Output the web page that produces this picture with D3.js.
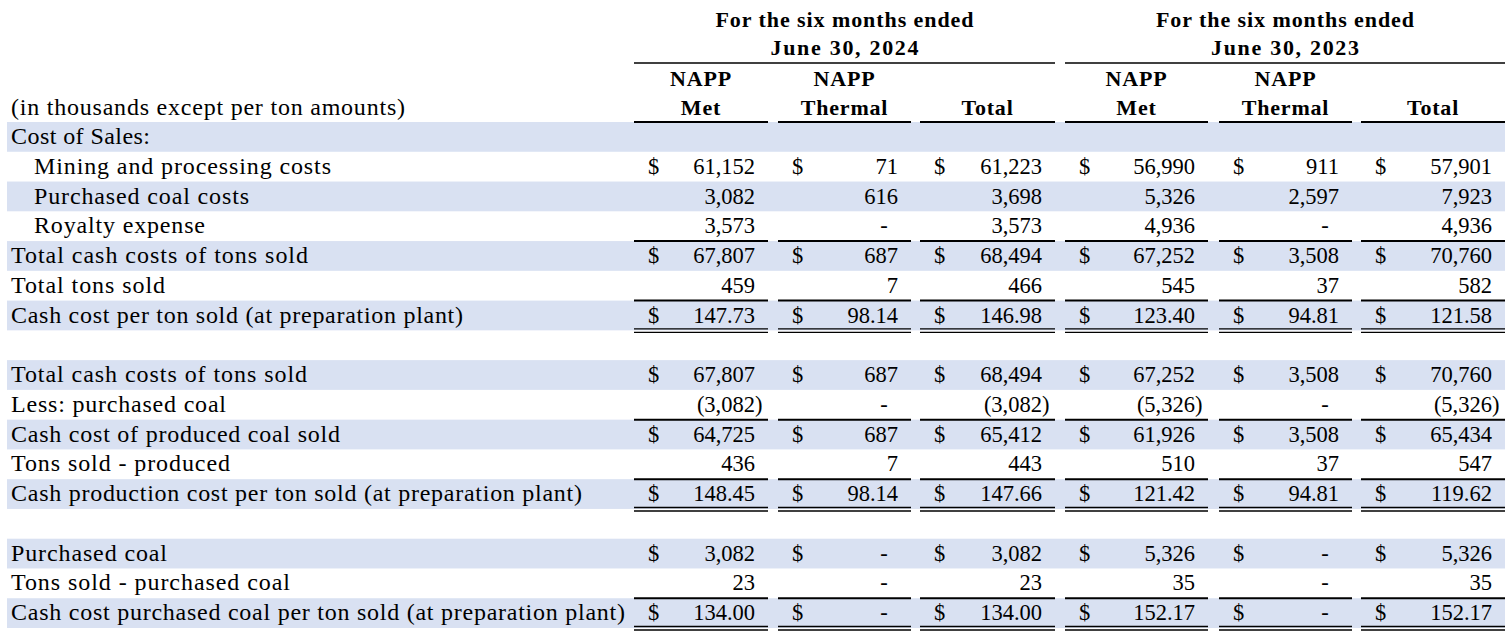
<!DOCTYPE html>
<html><head><meta charset="utf-8">
<script src="https://cdn.jsdelivr.net/npm/d3@7"></script>
<style>html,body{margin:0;padding:0;background:#fff;} svg{display:block;}</style>
</head><body><svg id="c" width="1512" height="638"></svg>
<script>
// ---------- DATA ----------
const rowLabels = [
  "Cost of Sales:",
  "Mining and processing costs",
  "Purchased coal costs",
  "Royalty expense",
  "Total cash costs of tons sold",
  "Total tons sold",
  "Cash cost per ton sold (at preparation plant)",
  "",
  "Total cash costs of tons sold",
  "Less: purchased coal",
  "Cash cost of produced coal sold",
  "Tons sold - produced",
  "Cash production cost per ton sold (at preparation plant)",
  "",
  "Purchased coal",
  "Tons sold - purchased coal",
  "Cash cost purchased coal per ton sold (at preparation plant)"
];
const indentRows = [1, 2, 3];
const shadedRows = [0, 2, 4, 6, 8, 10, 12, 14, 16];
const dollarRows = [1, 4, 6, 8, 10, 12, 14, 16];
const decimalRows = [6, 12, 16];
const ruleAboveRows = [4, 6, 10, 12, 16];
const doubleRuleBelowRows = [6, 12, 16];

const unitsLabel = "(in thousands except per ton amounts)";
const periodTitles = ["For the six months ended", "For the six months ended"];
const periodDates = ["June 30, 2024", "June 30, 2023"];
const columnTop = ["NAPP", "NAPP", "", "NAPP", "NAPP", ""];
const columnBottom = ["Met", "Thermal", "Total", "Met", "Thermal", "Total"];

const met2024     = [null, 61152, 3082, 3573, 67807, 459, 147.73, null, 67807, -3082, 64725, 436, 148.45, null, 3082, 23, 134.00];
const thermal2024 = [null, 71, 616, 0, 687, 7, 98.14, null, 687, 0, 687, 7, 98.14, null, 0, 0, 0];
const total2024   = [null, 61223, 3698, 3573, 68494, 466, 146.98, null, 68494, -3082, 65412, 443, 147.66, null, 3082, 23, 134.00];
const met2023     = [null, 56990, 5326, 4936, 67252, 545, 123.40, null, 67252, -5326, 61926, 510, 121.42, null, 5326, 35, 152.17];
const thermal2023 = [null, 911, 2597, 0, 3508, 37, 94.81, null, 3508, 0, 3508, 37, 94.81, null, 0, 0, 0];
const total2023   = [null, 57901, 7923, 4936, 70760, 582, 121.58, null, 70760, -5326, 65434, 547, 119.62, null, 5326, 35, 152.17];
const series = [met2024, thermal2024, total2024, met2023, thermal2023, total2023];

// ---------- LAYOUT ----------
const W = 1512, H = 638;
const FONT = "'Liberation Serif', 'Times New Roman', Times, serif";
const SHADE = "#d9e1f2";
const labelEnds = [150, 331, 249, 205, 308, 165, 463, null, 307, 226, 340, 230, 582, null, 167, 290, 625];

const svg = d3.select("#c").attr("width", W).attr("height", H);
svg.append("rect").attr("width", W).attr("height", H).attr("fill", "#fff");

const y = d3.scaleBand().domain(d3.range(rowLabels.length)).range([122, 628]);
const colIdx = d3.range(series.length);
const colLeft = d3.scaleOrdinal().domain(colIdx).range([634, 778, 920, 1065, 1219, 1361]);
const colRight = d3.scaleOrdinal().domain(colIdx).range([768, 911, 1055, 1208, 1352, 1505]);
const groupCols = [[0, 2], [3, 5]];

// shaded bands
svg.append("g").selectAll("rect").data(shadedRows).join("rect")
  .attr("x", 7).attr("width", 1505 - 7)
  .attr("y", d => y(d)).attr("height", y.bandwidth())
  .attr("fill", SHADE);

const txt = svg.append("g").attr("font-family", FONT).attr("fill", "#000");

// header
groupCols.forEach(([a, b], g) => {
  const cx = (colLeft(a) + colRight(b)) / 2;
  txt.append("text").attr("x", cx - 129).attr("y", 27)
    .attr("font-size", 22).attr("font-weight", "bold")
    .attr("textLength", 258).attr("lengthAdjust", "spacing")
    .text(periodTitles[g]);
  txt.append("text").attr("x", cx - 74).attr("y", 55)
    .attr("font-size", 22).attr("font-weight", "bold")
    .attr("textLength", 148).attr("lengthAdjust", "spacing")
    .text(periodDates[g]);
  svg.append("line").attr("x1", colLeft(a)).attr("x2", colRight(b))
    .attr("y1", 63).attr("y2", 63).attr("stroke", "#000").attr("stroke-width", 1.6);
});
colIdx.forEach(c => {
  const cx = (colLeft(c) + colRight(c)) / 2;
  txt.append("text").attr("x", cx).attr("y", 86).attr("text-anchor", "middle")
    .attr("font-size", 22).attr("font-weight", "bold").attr("letter-spacing", 0.8)
    .text(columnTop[c]);
  txt.append("text").attr("x", cx).attr("y", 115).attr("text-anchor", "middle")
    .attr("font-size", 22).attr("font-weight", "bold").attr("letter-spacing", 0.8)
    .text(columnBottom[c]);
  svg.append("line").attr("x1", colLeft(c)).attr("x2", colRight(c))
    .attr("y1", 122).attr("y2", 122).attr("stroke", "#000").attr("stroke-width", 2);
});
txt.append("text").attr("x", 11).attr("y", 115).attr("font-size", 24)
  .attr("textLength", 405 - 11).attr("lengthAdjust", "spacing").text(unitsLabel);

// row labels
rowLabels.forEach((lab, i) => {
  if (!lab) return;
  const x0 = indentRows.includes(i) ? 34 : 11;
  txt.append("text").attr("x", x0).attr("y", y(i) + 22).attr("font-size", 24)
    .attr("textLength", labelEnds[i] - x0).attr("lengthAdjust", "spacing").text(lab);
});

// values
const fInt = d3.format(",");
const fDec = d3.format(",.2f");
series.forEach((vals, c) => {
  const right = colRight(c) - 13;
  vals.forEach((v, i) => {
    if (v === null) return;
    const by = y(i) + 22;
    if (dollarRows.includes(i)) {
      txt.append("text").attr("x", colLeft(c) + 14).attr("y", by).attr("font-size", 22.5).text("$");
    }
    if (v === 0) {
      txt.append("text").attr("x", colRight(c) - 27).attr("y", by).attr("font-size", 22.5)
        .attr("text-anchor", "middle").text("-");
      return;
    }
    const f = decimalRows.includes(i) ? fDec : fInt;
    if (v < 0) {
      txt.append("text").attr("x", right).attr("y", by).attr("font-size", 22.5)
        .attr("text-anchor", "end").text("(" + f(-v));
      txt.append("text").attr("x", right).attr("y", by).attr("font-size", 22.5).text(")");
    } else {
      txt.append("text").attr("x", right).attr("y", by).attr("font-size", 22.5)
        .attr("text-anchor", "end").text(f(v));
    }
  });
});

// rules
const rules = svg.append("g").attr("stroke", "#000");
ruleAboveRows.forEach(i => {
  colIdx.forEach(c => {
    rules.append("line").attr("x1", colLeft(c)).attr("x2", colRight(c))
      .attr("y1", y(i)).attr("y2", y(i)).attr("stroke-width", 2);
  });
});
doubleRuleBelowRows.forEach(i => {
  const b = y(i) + y.bandwidth();
  colIdx.forEach(c => {
    [b - 1.5, b + 2].forEach(yy => {
      rules.append("line").attr("x1", colLeft(c)).attr("x2", colRight(c))
        .attr("y1", yy).attr("y2", yy).attr("stroke-width", 1.4);
    });
  });
});
</script></body></html>
